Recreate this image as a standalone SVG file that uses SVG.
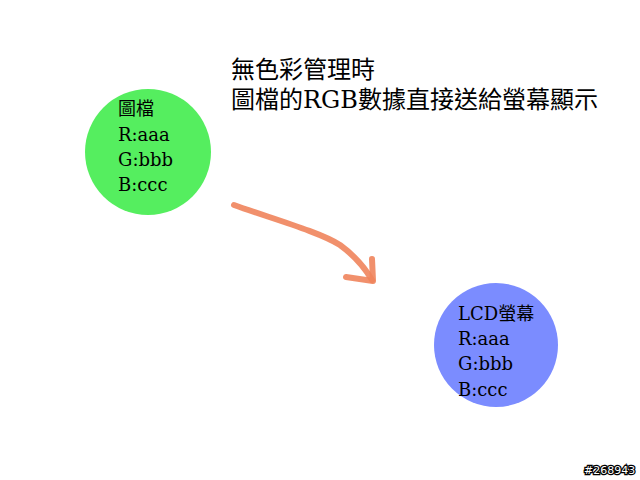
<svg xmlns="http://www.w3.org/2000/svg" width="640" height="480" viewBox="0 0 640 480">
<style>
text{font-family:"DejaVu Serif","Noto Sans CJK TC",serif;fill:#000}
.t{font-size:24px}.n{font-size:18px}
.c{fill:none;stroke:#f0845c;stroke-width:6;stroke-linecap:round;stroke-linejoin:round;opacity:.9}
</style>
<rect width="640" height="480" fill="#fff"/>
<g id="title"><text class="t" x="231" y="78">無色彩管理時</text><text class="t" x="231" y="108">圖檔的RGB數據直接送給螢幕顯示</text></g>
<g id="image"><circle cx="148" cy="152" r="63" fill="#55ee5f"/>
<text class="n" x="118" y="115">圖檔</text><text class="n" x="118" y="141">R:aaa</text><text class="n" x="118" y="166">G:bbb</text><text class="n" x="118" y="191">B:ccc</text></g>
<g id="lcd"><circle cx="496" cy="345" r="62" fill="#7b8cff"/>
<text class="n" x="458" y="320">LCD螢幕</text><text class="n" x="458" y="345">R:aaa</text><text class="n" x="458" y="370">G:bbb</text><text class="n" x="458" y="396">B:ccc</text></g>
<g id="connectors"><path class="c" d="M234,205 C270,218 320,232 340,245 C355,256 365,268 372,280"/><path class="c" d="M372,259 L373,281 L346,277"/></g>
<text x="584" y="474" style="font-family:'DejaVu Sans',sans-serif;font-size:11px;fill:#fff;stroke:#000;stroke-width:2.5;paint-order:stroke">#268943</text>
</svg>
